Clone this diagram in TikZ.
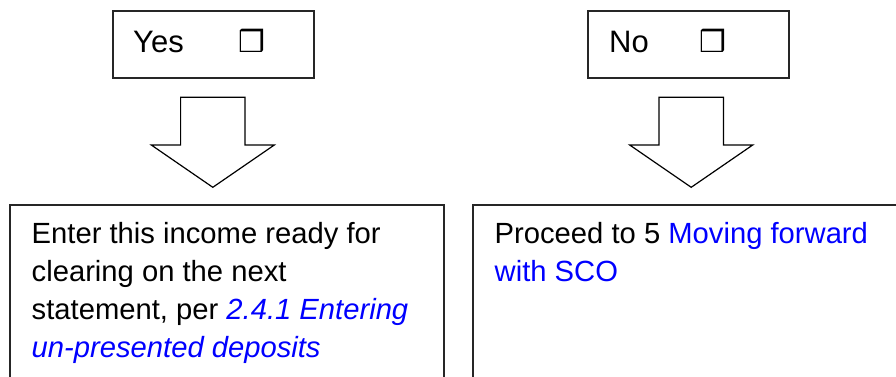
\documentclass[tikz,border=0pt]{standalone}
\usepackage{fontspec}
\setmainfont{Liberation Sans}
\newfontfamily\symfont{DejaVu Sans}
\definecolor{linkblue}{RGB}{0,0,255}

\tikzset{
  framebox/.style={draw=black!85, line width=1.8pt, inner sep=0pt, outer sep=0pt,
    anchor=north west, minimum width=#1},
  arrowline/.style={draw=black, line width=1.2pt, line join=miter, fill=white},
  choice/.style={anchor=base west, inner sep=0pt, font=\fontsize{31}{31}\selectfont},
  tick/.style={anchor=base west, inner sep=0pt, font=\symfont\fontsize{30}{30}\selectfont},
  bodytext/.style={anchor=base west, inner sep=0pt},
  blockarrow/.pic={
    \draw[arrowline] (-32.2,0) -- (32.2,0) -- (32.2,47.7) -- (61.5,47.7)
      -- (0,90) -- (-61.5,47.7) -- (-32.2,47.7) -- cycle;
  }
}

\newcommand{\boxtext}[1]{\parbox[t]{430pt}{\raggedright\fontsize{29.2}{38.3}\selectfont #1}}

\begin{document}
\begin{tikzpicture}[x=1pt,y=-1pt]
  \useasboundingbox (0,0) rectangle (896,376);
  \clip (0,0) rectangle (896,376);

  % choice boxes
  \node[framebox=201pt, minimum height=66.7pt] (yesbox) at (112.6,11) {};
  \node[framebox=201pt, minimum height=66.7pt] (nobox) at (588,11) {};
  \node[choice] (yeslbl) at (133,52) {Yes};
  \node[tick] (yestick) at (238,52) {❒};
  \node[choice] (nolbl) at (609,52) {No};
  \node[tick] (notick) at (699,52) {❒};

  % block arrows
  \coordinate (yesarrow) at (212.8,97.3);
  \coordinate (noarrow) at (691.2,97.3);
  \pic at (yesarrow) {blockarrow};
  \pic at (noarrow) {blockarrow};

  % outcome boxes
  \node[framebox=434.5pt, minimum height=220pt] (yesout) at (9.7,205) {};
  \node[framebox=450pt, minimum height=220pt] (noout) at (472.6,205) {};

  \node[bodytext] (yestext) at (31.5,243) {\boxtext{Enter this income ready for\\
    clearing on the next\\
    statement, per \textcolor{linkblue}{\itshape 2.4.1 Entering}\\
    \textcolor{linkblue}{\itshape un-presented deposits}}};
  \node[bodytext] (notext) at (494.5,243) {\boxtext{Proceed to 5 \textcolor{linkblue}{Moving forward}\\
    \textcolor{linkblue}{with SCO}}};
\end{tikzpicture}
\end{document}
